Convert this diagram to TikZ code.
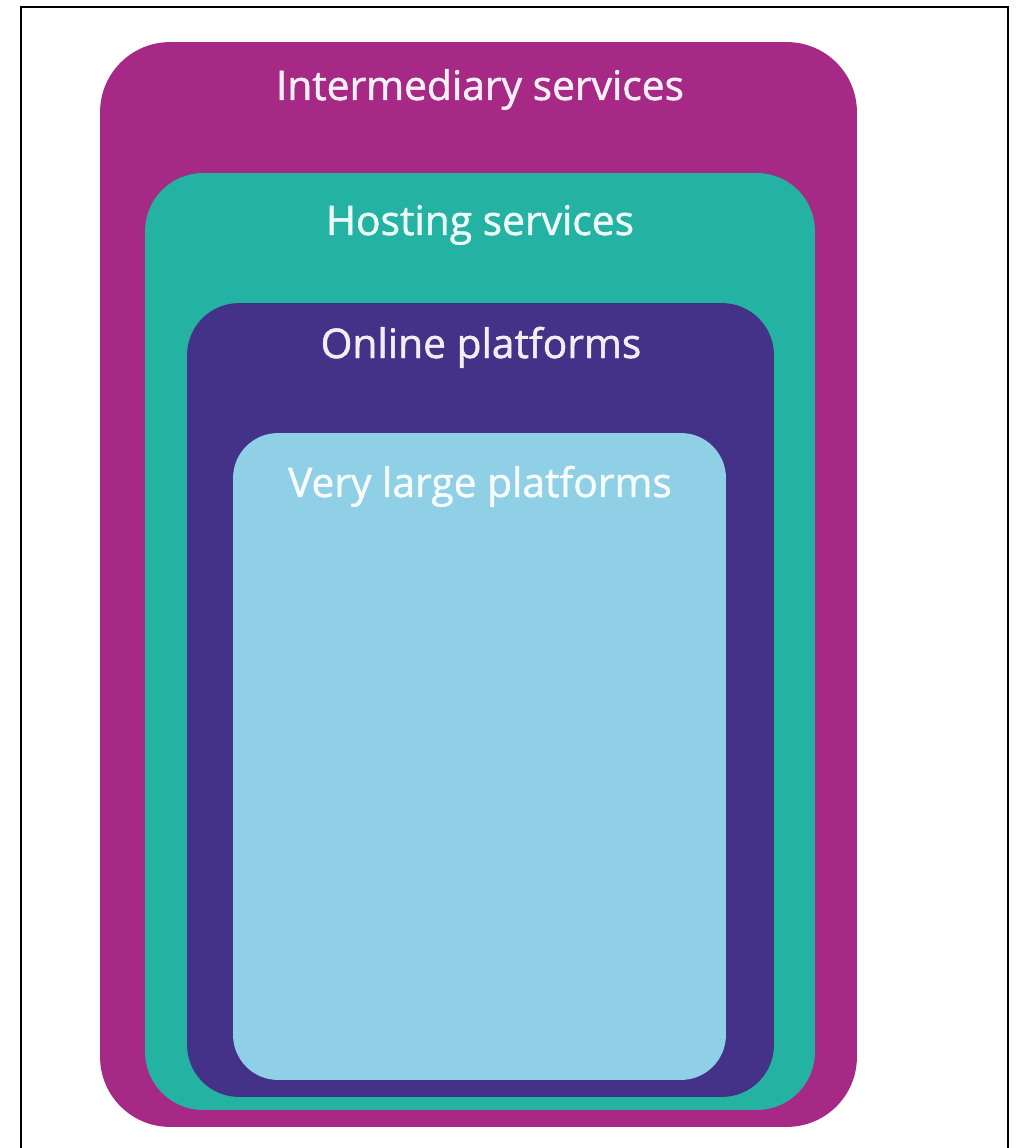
\documentclass[tikz,border=0pt]{standalone}
\usepackage{fontspec}
\setmainfont{Open Sans}
\newfontfamily\titlefont{Open Sans}[FakeBold=1.2]
\usepackage{tikz}
\usetikzlibrary{positioning}
\definecolor{dsamagenta}{RGB}{166,41,133}
\definecolor{dsateal}{RGB}{36,179,163}
\definecolor{dsapurple}{RGB}{68,50,136}
\definecolor{dsalight}{RGB}{143,208,230}
\tikzset{
  layer/.style={rectangle, draw=none, inner sep=0pt},
  title/.style={anchor=base, inner sep=0pt, text=white, text opacity=0.92, font=\titlefont\fontsize{23.2pt}{27pt}\selectfont},
  frame/.style={draw=black, line width=1.1pt}
}
\begin{document}
\begin{tikzpicture}[x=0.02cm, y=-0.02cm]
  \useasboundingbox (0,0) rectangle (1015,1148);
  % outer frame, open at the bottom
  \draw[frame] (21,1150) -- (21,7) -- (1008,7) -- (1008,1150);

  % nested layers
  \node[layer, fill=dsamagenta, rounded corners=1.4cm, minimum width=15.14cm, minimum height=21.7cm] (inter) at (478.5,584.5) {};
  \node[layer, fill=dsateal, rounded corners=1.16cm, minimum width=13.4cm, minimum height=18.74cm] (hosting) at (480,641.5) {};
  \node[layer, fill=dsapurple, rounded corners=1.04cm, minimum width=11.74cm, minimum height=15.88cm] (online) at (480.5,700) {};
  \node[layer, fill=dsalight, rounded corners=0.9cm, minimum width=9.86cm, minimum height=12.94cm] (vlop) at (479.5,756.5) {};

  % titles
  \node[title] (intertitle) at (480,100) {Intermediary services};
  \node[title] (hostingtitle) at (480,235) {Hosting services};
  \node[title] (onlinetitle) at (481,358) {Online platforms};
  \node[title] (vloptitle) at (480,497) {Very large platforms};
\end{tikzpicture}
\end{document}
